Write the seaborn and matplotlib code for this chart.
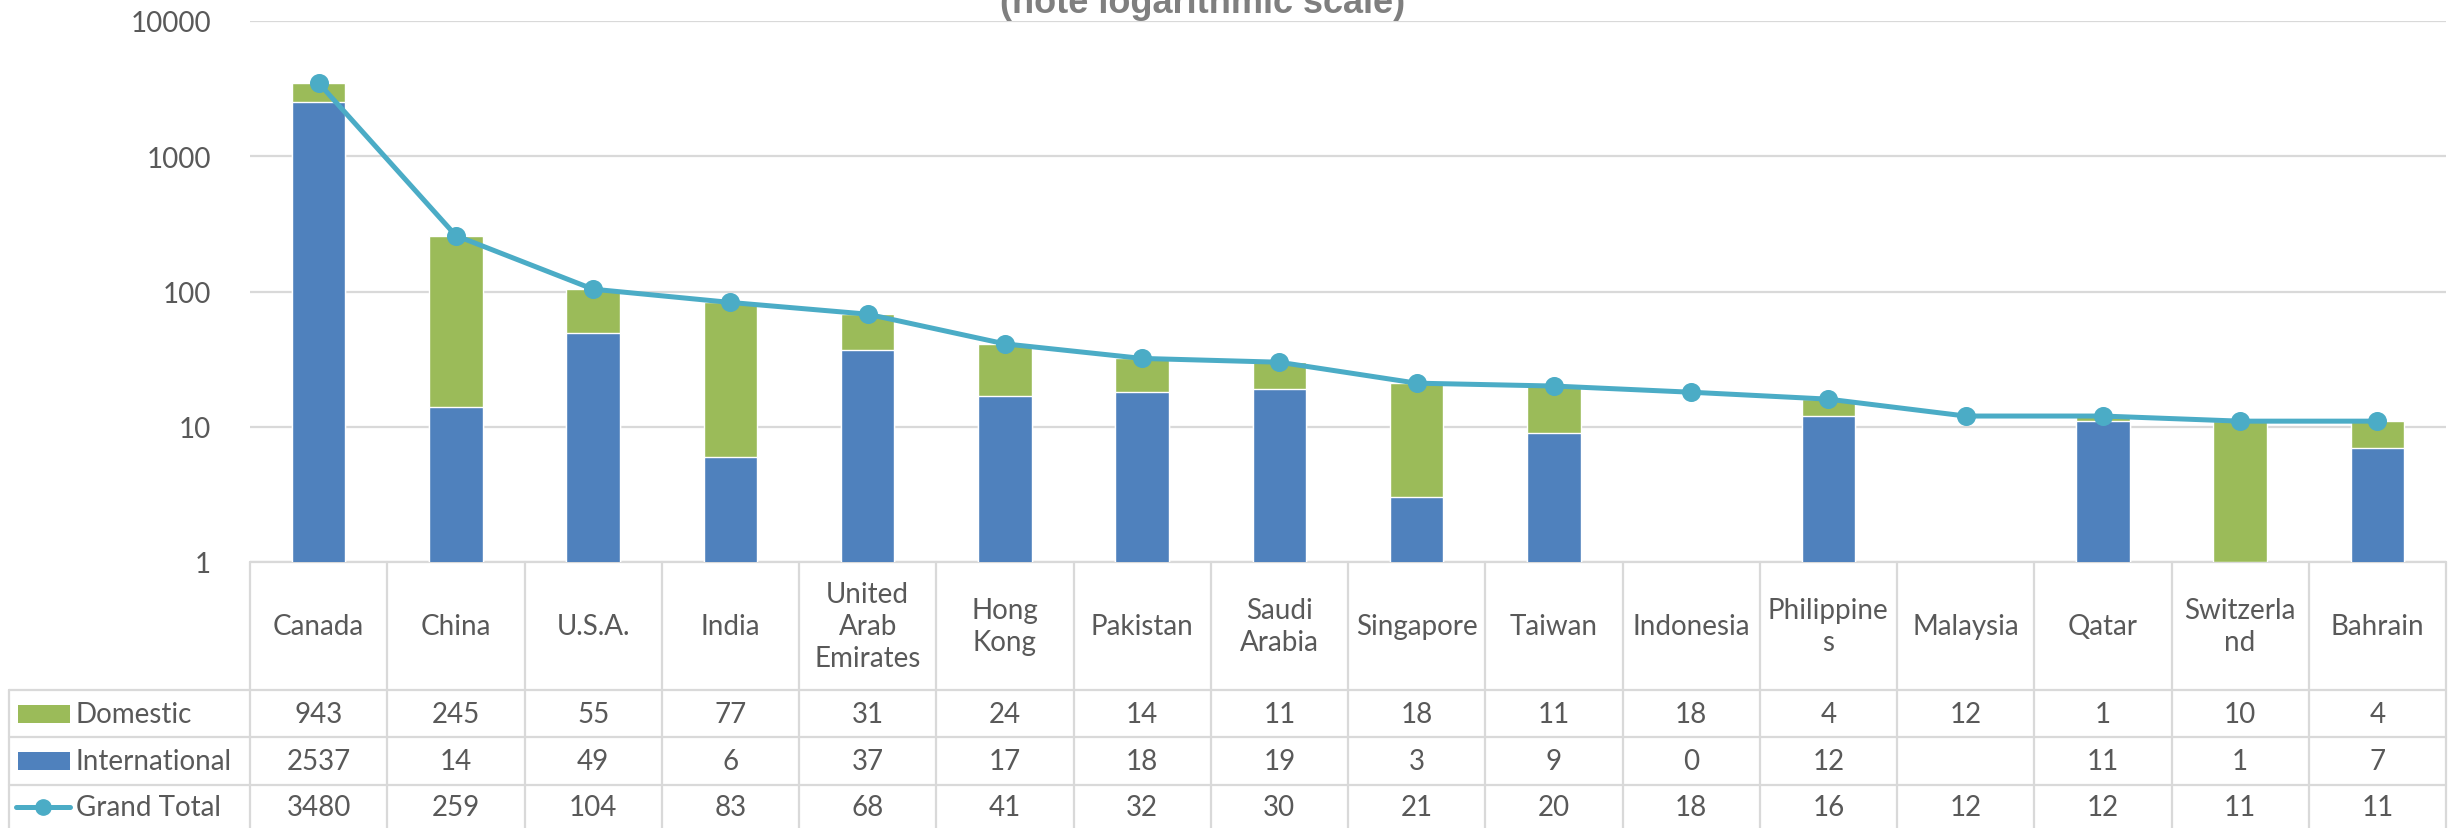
import numpy as np
import pandas as pd
import matplotlib
matplotlib.use("Agg")
import matplotlib.pyplot as plt
import matplotlib.transforms as mtransforms
from matplotlib.lines import Line2D
from matplotlib.patches import Rectangle
from matplotlib.ticker import NullLocator
import seaborn as sns

countries = ["Canada", "China", "U.S.A.", "India", "United Arab Emirates", "Hong Kong",
             "Pakistan", "Saudi Arabia", "Singapore", "Taiwan", "Indonesia", "Philippines",
             "Malaysia", "Qatar", "Switzerland", "Bahrain"]
header_labels = ["Canada", "China", "U.S.A.", "India", "United\nArab\nEmirates", "Hong\nKong",
                 "Pakistan", "Saudi\nArabia", "Singapore", "Taiwan", "Indonesia", "Philippine\ns",
                 "Malaysia", "Qatar", "Switzerla\nnd", "Bahrain"]
domestic = [943, 245, 55, 77, 31, 24, 14, 11, 18, 11, 18, 4, 12, 1, 10, 4]
international = [2537, 14, 49, 6, 37, 17, 18, 19, 3, 9, 0, 12, None, 11, 1, 7]
grand_total = [3480, 259, 104, 83, 68, 41, 32, 30, 21, 20, 18, 16, 12, 12, 11, 11]
y_ticks = [1, 10, 100, 1000, 10000]

GREEN = "#9BBB59"
BLUE = "#4F81BD"
LINE = "#4BACC6"
GRID = "#D9D9D9"
TEXT = "#595959"

W, H = 2451, 829

df = pd.DataFrame({
    "Country": countries,
    "Domestic": domestic,
    "International": pd.to_numeric(pd.Series(international, dtype="float")),
    "Grand Total": grand_total,
})
# Excel drops the whole stack on a log axis when the base series is 0 / blank
has_base = df["International"] > 0
df["stack_top"] = np.where(has_base, df["International"] + df["Domestic"], np.nan)
df["base"] = np.where(has_base, df["International"], np.nan)

sns.set_theme(style="white")
plt.rcParams["font.family"] = ["Lato", "DejaVu Sans"]

fig = plt.figure(figsize=(W / 100, H / 100), dpi=100)
ax = fig.add_axes([250 / W, 1 - 563 / H, 2196 / W, 541 / H])

sns.barplot(data=df, x="Country", y="stack_top", order=countries, color=GREEN,
            saturation=1, width=0.39, errorbar=None, ax=ax)
sns.barplot(data=df, x="Country", y="base", order=countries, color=BLUE,
            saturation=1, width=0.39, errorbar=None, ax=ax)
sns.pointplot(data=df, x="Country", y="Grand Total", order=countries, color=LINE,
              markers="o", linestyles="-", errorbar=None, markersize=11,
              linewidth=3.6, ax=ax)

ax.set_yscale("log")
ax.set_ylim(1, 10000)
ax.set_xlim(-0.5, len(countries) - 0.5)
ax.set_yticks(y_ticks)
ax.set_yticklabels([str(v) for v in y_ticks])
ax.yaxis.set_minor_locator(NullLocator())
ax.tick_params(axis="y", length=0, pad=28, labelsize=20, labelcolor=TEXT)
ax.tick_params(axis="x", length=0, labelbottom=False)
ax.set_xlabel("")
ax.set_ylabel("")
ax.yaxis.grid(True, color=GRID, lw=1.6)
ax.set_axisbelow(True)
for s in ax.spines.values():
    s.set_visible(False)
ax.axhline(1, color=GRID, lw=1.6, clip_on=False, zorder=0)

fig.text(1203 / W, 1 - 13 / H, "(note logarithmic scale)", ha="center", va="baseline",
         fontsize=26, fontweight="bold", color="#7F7F7F", family="Liberation Sans")

# ---- data table under the plot ----
def fy(py):
    return 1 - py / H

def fx(px):
    return px / W

colx = mtransforms.blended_transform_factory(ax.transData, fig.transFigure)
n = len(countries)
row_lines = [691, 738, 786]
table_bottom = 829

for i in range(n + 1):
    ax.add_line(Line2D([i - 0.5, i - 0.5], [fy(563), fy(table_bottom)], transform=colx,
                       color=GRID, lw=1.6, clip_on=False))
for py in row_lines:
    fig.add_artist(Line2D([fx(9), fx(2446)], [fy(py), fy(py)], color=GRID, lw=1.6))
fig.add_artist(Line2D([fx(9), fx(9)], [fy(691), fy(table_bottom)], color=GRID, lw=1.6))

for i, lab in enumerate(header_labels):
    ax.text(i, fy(627), lab, transform=colx, ha="center", va="center", fontsize=20,
            color=TEXT, linespacing=1.3)

row_centers = [715, 762, 808]
rows = [("Domestic", domestic), ("International", international), ("Grand Total", grand_total)]
for (name, vals), cy in zip(rows, row_centers):
    fig.text(fx(76), fy(cy), name, ha="left", va="center", fontsize=20, color=TEXT)
    for i, v in enumerate(vals):
        if v is None:
            continue
        ax.text(i, fy(cy), str(v), transform=colx, ha="center", va="center",
                fontsize=20, color=TEXT)

# legend keys
fig.add_artist(Rectangle((fx(18), fy(724)), fx(70) - fx(18), fy(706) - fy(724),
                         facecolor=GREEN, edgecolor="none"))
fig.add_artist(Rectangle((fx(18), fy(771)), fx(70) - fx(18), fy(753) - fy(771),
                         facecolor=BLUE, edgecolor="none"))
fig.add_artist(Line2D([fx(16), fx(70)], [fy(808), fy(808)], color=LINE, lw=3.6))
fig.add_artist(Line2D([fx(43)], [fy(808)], color=LINE, marker="o", markersize=11))

fig.savefig("out.png", dpi=100)
